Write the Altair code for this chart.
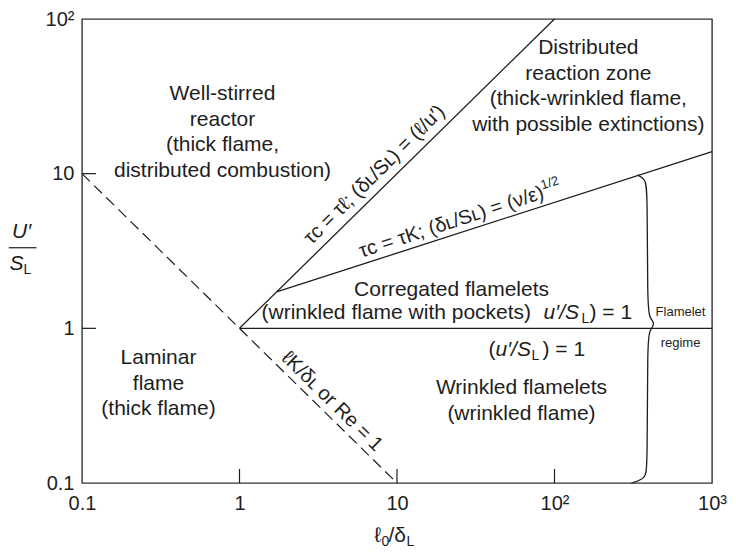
import altair as alt
import pandas as pd

FONT = "Liberation Sans"
INK = "#1e1e1e"

# ---- axes -------------------------------------------------------------
x_ticks = [0.1, 1, 10, 100, 1000]
x_tick_labels = ["0.1", "1", "10", "10²", "10³"]
y_ticks = [0.1, 1, 10, 100]
y_tick_labels = ["0.1", "1", "10", "10²"]
x_inner_ticks = [1, 10, 100]
y_inner_ticks = [1, 10]

# ---- regime boundaries (data units) ----------------------------------
seg_x1 = [1, 1.72, 1]
seg_y1 = [1, 1.72, 1]
seg_x2 = [100, 1000, 1000]
seg_y2 = [100, 13.9, 1]

dash_x1 = [0.1]
dash_y1 = [10]
dash_x2 = [10]
dash_y2 = [0.1]

# curly brace "flamelet regime"
brace_x = [336, 378, 389, 389, 401, 438, 401, 389, 389, 378, 308]
brace_y = [9.81, 9.25, 7.74, 1.41, 1.16, 1.077, 0.971, 0.825, 0.1255, 0.1066, 0.1]

# ---- region labels (position of first line) ---------------------------
block_text = [
    "Well-stirred\nreactor\n(thick flame,\ndistributed combustion)",
    "Distributed\nreaction zone\n(thick-wrinkled flame,\nwith possible extinctions)",
    "Laminar\nflame\n(thick flame)",
    "Corregated flamelets",
    "Wrinkled flamelets\n(wrinkled flame)",
]
block_x = [0.78, 164, 0.306, 22.2, 61.7]
block_y = [32.6, 64.5, 0.641, 1.757, 0.411]

small_text = ["Flamelet", "regime"]
small_x = [631, 631]
small_y = [1.268, 0.80]

# mixed-style lines, split in pieces
norm_text = ["(wrinkled flame with pockets)", ") = 1", "(", ") = 1", "/δ"]
norm_x = [1.38, 166.8, 38.1, 83.9, 8.83]
norm_y = [1.249, 1.249, 0.7217, 0.7217, 0.0451]

ital_text = ["u′/S", "u′/S"]
ital_x = [85.2, 42.2]
ital_y = [1.249, 0.7217]

sub_text = ["L", "L", "0", "L", "L"]
sub_x = [148.4, 71.4, 7.97, 11.49, 0.0425]
sub_y = [1.249, 0.7217, 0.0451, 0.0451, 2.62]

ell_text = ["ℓ"]
ell_x = [7.2]
ell_y = [0.0451]

# y-axis fraction U'/S_L
frac_num_text = ["U′"]
frac_num_x = [0.0413]
frac_num_y = [4.21]
frac_den_text = ["S"]
frac_den_x = [0.0425]
frac_den_y = [2.62]
frac_bar_x1 = [0.0343]
frac_bar_x2 = [0.0514]
frac_bar_y = [3.32]

# labels along the boundaries
rot1_text = ["τc = τℓ; (δʟ/Sʟ) = (ℓ/u′)"]
rot1_x = [8.4]
rot1_y = [8.4]
rot2_text = ["τc = τK; (δʟ/Sʟ) = (ν/ε)"]
rot2_x = [23.5]
rot2_y = [4.04]
rot2_sup_text = ["1/2"]
rot2_sup_x = [90.0]
rot2_sup_y = [6.3]
rot3_text = ["ℓK/δʟ or Re = 1"]
rot3_x = [3.39]
rot3_y = [0.2935]

# ---- scales / axes -----------------------------------------------------
xs = alt.Scale(type="log", domain=[0.1, 1000], nice=False)
ys = alt.Scale(type="log", domain=[0.1, 100], nice=False)


def lab_expr(vals, labs):
    return "[" + ",".join("'%s'" % l for l in labs) + "][indexof([" + ",".join(str(v) for v in vals) + "], datum.value)]"


xaxis = alt.Axis(values=x_ticks, labelExpr=lab_expr(x_ticks, x_tick_labels), ticks=False,
                 domain=False, grid=False, labelFont=FONT, labelFontSize=20, labelColor=INK,
                 labelPadding=10, labelFlush=False, labelOverlap=False, title=None)
yaxis = alt.Axis(values=y_ticks, labelExpr=lab_expr(y_ticks, y_tick_labels), ticks=False,
                 domain=False, grid=False, labelFont=FONT, labelFontSize=20, labelColor=INK,
                 labelPadding=8, labelFlush=False, labelOverlap=False, title=None)


def X(f="x"):
    return alt.X(f + ":Q", scale=xs, axis=xaxis, title=None)


def Y(f="y"):
    return alt.Y(f + ":Q", scale=ys, axis=yaxis, title=None)


def df(**kw):
    return pd.DataFrame(kw)


PLOT_H = 464

layers = []

# boundary lines
layers.append(
    alt.Chart(df(x=seg_x1, y=seg_y1, x2=seg_x2, y2=seg_y2)).mark_rule(color=INK, strokeWidth=1.3)
    .encode(x=X(), y=Y(), x2="x2:Q", y2="y2:Q")
)
layers.append(
    alt.Chart(df(x=dash_x1, y=dash_y1, x2=dash_x2, y2=dash_y2)).mark_rule(color=INK, strokeWidth=1.2, strokeDash=[11, 6])
    .encode(x=X(), y=Y(), x2="x2:Q", y2="y2:Q")
)
# brace
layers.append(
    alt.Chart(df(x=brace_x, y=brace_y, i=list(range(len(brace_x))))).mark_line(color=INK, strokeWidth=1.3, interpolate="basis")
    .encode(x=X(), y=Y(), order="i:Q")
)
# inward ticks
layers.append(
    alt.Chart(df(x=x_inner_ticks)).mark_rule(color=INK, strokeWidth=1.2)
    .encode(x=X(), y=alt.value(PLOT_H), y2=alt.value(PLOT_H - 14))
)
layers.append(
    alt.Chart(df(y=y_inner_ticks)).mark_rule(color=INK, strokeWidth=1.2)
    .encode(y=Y(), x=alt.value(0), x2=alt.value(14))
)
# fraction bar
layers.append(
    alt.Chart(df(x=frac_bar_x1, x2=frac_bar_x2, y=frac_bar_y)).mark_rule(color=INK, strokeWidth=1.2)
    .encode(x=X(), x2="x2:Q", y=Y())
)


def txt(text, xv, yv, **mk):
    base = dict(font=FONT, color=INK, fontSize=21, baseline="middle", align="center")
    base.update(mk)
    return alt.Chart(df(t=text, x=xv, y=yv)).mark_text(**base).encode(x=X(), y=Y(), text="t:N")


layers.append(txt(block_text, block_x, block_y, lineBreak="\n", lineHeight=25.5))
layers.append(txt(small_text, small_x, small_y, fontSize=13))
layers.append(txt(norm_text, norm_x, norm_y, align="left"))
layers.append(txt(ital_text, ital_x, ital_y, align="left", fontStyle="italic"))
layers.append(txt(sub_text, sub_x, sub_y, align="left", fontSize=14, dy=6))
layers.append(txt(ell_text, ell_x, ell_y, align="left"))
layers.append(txt(frac_num_text, frac_num_x, frac_num_y, fontStyle="italic"))
layers.append(txt(frac_den_text, frac_den_x, frac_den_y, align="right", fontStyle="italic"))
layers.append(txt(rot1_text, rot1_x, rot1_y, angle=315.4, baseline="bottom", dy=-5, fontSize=20))
layers.append(txt(rot2_text, rot2_x, rot2_y, angle=342.0, baseline="bottom", dy=-3, fontSize=20))
layers.append(txt(rot2_sup_text, rot2_sup_x, rot2_sup_y, angle=342.0, baseline="bottom", dy=-13, fontSize=13, align="left"))
layers.append(txt(rot3_text, rot3_x, rot3_y, angle=44.6, baseline="bottom", dy=-3, fontSize=20))

chart = (
    alt.layer(*layers)
    .properties(width=630, height=PLOT_H, autosize=alt.AutoSizeParams(type="none"),
                padding={"left": 74, "top": 11, "right": 16, "bottom": 66})
    .configure_view(stroke="#333", strokeWidth=1.4)
)

chart.save("out.html", embed_options={"renderer": "svg", "actions": False})
